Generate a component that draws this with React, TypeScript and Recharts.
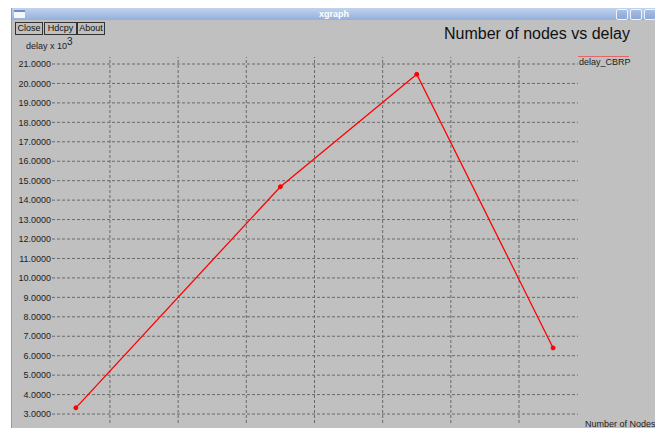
import { LineChart, Line, XAxis, YAxis, ReferenceLine } from 'recharts';

// values
const nodes = [25, 55, 75, 95];
const delayCBRP = [3.32, 14.69, 20.47, 6.4];
const xTicks = [30, 40, 50, 60, 70, 80, 90];
const yTicks = [3, 4, 5, 6, 7, 8, 9, 10, 11, 12, 13, 14, 15, 16, 17, 18, 19, 20, 21];

const data = nodes.map((n, i) => ({ nodes: n, delay_CBRP: delayCBRP[i] }));

const FONT = '"Liberation Sans", Arial, sans-serif';
const BG = '#c0c0c0';
const GRID = '#6a6a6a';

const fmt = (v: number) => v.toFixed(4);

const XTick = (props: any) => {
  const { x, y, payload } = props;
  return (
    <text x={x} y={y} dy={6} textAnchor="middle" fontSize={9} fill="#222" fontFamily={FONT}>
      {fmt(payload.value)}
    </text>
  );
};

const Button = ({ left, width, label }: { left: number; width: number; label: string }) => (
  <div
    style={{
      position: 'absolute',
      left,
      top: 22,
      width,
      height: 11,
      border: '1px solid #333',
      fontSize: 9,
      lineHeight: '11px',
      textAlign: 'center',
      color: '#111',
    }}
  >
    {label}
  </div>
);

const WinBtn = ({ left }: { left: number }) => (
  <div
    style={{
      position: 'absolute',
      left,
      top: 9,
      width: 10,
      height: 9,
      border: '1px solid #eef2fa',
      borderRadius: 2,
      background: 'linear-gradient(#a9bfe2, #8aa7d6)',
    }}
  />
);

export default function App() {
  return (
    <div
      style={{
        position: 'relative',
        margin: -8,
        width: 663,
        height: 436,
        background: '#fff',
        overflow: 'hidden',
        fontFamily: FONT,
      }}
    >
      {/* window body */}
      <div
        style={{
          position: 'absolute',
          left: 11,
          top: 7,
          width: 644,
          height: 432,
          background: BG,
          border: '1px solid #8c9cb4',
        }}
      />
      {/* title bar */}
      <div
        style={{
          position: 'absolute',
          left: 12,
          top: 8,
          width: 644,
          height: 12,
          background: 'linear-gradient(#c2d3ec, #93b0dc)',
          color: '#fff',
          fontSize: 9,
          fontWeight: 'bold',
          lineHeight: '12px',
          textAlign: 'center',
        }}
      >
        xgraph
      </div>
      <div
        style={{
          position: 'absolute',
          left: 14,
          top: 10,
          width: 11,
          height: 6,
          background: '#f4f6fa',
          borderTop: '2px solid #6d8fc4',
        }}
      />
      <WinBtn left={616} />
      <WinBtn left={630} />
      <WinBtn left={644} />

      <Button left={15} width={26} label="Close" />
      <Button left={44} width={31} label="Hdcpy" />
      <Button left={77} width={26} label="About" />

      {/* chart svg runs past the window bottom, the wrapper crops it like the screenshot */}
      <div style={{ position: 'absolute', left: 0, top: 0 }}>
        <LineChart
          width={663}
          height={450}
          data={data}
          margin={{ top: 57, right: 85, bottom: 0, left: 0 }}
        >
          <XAxis
            dataKey="nodes"
            type="number"
            domain={[21.5, 98.65]}
            ticks={xTicks}
            height={27}
            axisLine={false}
            tickLine={false}
            tickSize={0}
            tickMargin={6}
            allowDataOverflow
            interval={0}
            tick={<XTick />}
          />
          <YAxis
            type="number"
            domain={[2.54, 21.36]}
            ticks={yTicks}
            tickFormatter={fmt}
            width={52}
            axisLine={false}
            tickLine={false}
            tickSize={0}
            tickMargin={1}
            allowDataOverflow
            interval={0}
            tick={{ fontSize: 9, fill: '#222', fontFamily: FONT }}
          />
          {yTicks.map((t) => (
            <ReferenceLine key={`y${t}`} y={t} stroke={GRID} strokeDasharray="3 2" />
          ))}
          {xTicks.map((t) => (
            <ReferenceLine key={`x${t}`} x={t} stroke={GRID} strokeDasharray="3 2" />
          ))}
          <Line
            dataKey="delay_CBRP"
            stroke="#ff0000"
            strokeWidth={1.3}
            dot={{ r: 2, fill: '#ff0000', stroke: '#ff0000', strokeWidth: 1 }}
            isAnimationActive={false}
          />
        </LineChart>
      </div>

      {/* legend */}
      <div style={{ position: 'absolute', left: 578, top: 56, width: 51, height: 1, background: '#e06868' }} />
      <div style={{ position: 'absolute', left: 579, top: 57, fontSize: 9, color: '#222', whiteSpace: 'nowrap' }}>
        delay_CBRP
      </div>

      {/* chart title and axis captions */}
      <div
        style={{
          position: 'absolute',
          left: 444,
          top: 25,
          fontSize: 16,
          color: '#111',
          whiteSpace: 'nowrap',
        }}
      >
        Number of nodes vs delay
      </div>
      <div
        style={{
          position: 'absolute',
          left: 26,
          top: 40,
          fontSize: 9,
          color: '#222',
          whiteSpace: 'nowrap',
        }}
      >
        delay x 10<span style={{ fontSize: 10, position: 'relative', top: -4 }}>3</span>
      </div>
      <div
        style={{
          position: 'absolute',
          left: 585,
          top: 419,
          fontSize: 9,
          color: '#222',
          whiteSpace: 'nowrap',
        }}
      >
        Number of Nodes
      </div>
    </div>
  );
}
